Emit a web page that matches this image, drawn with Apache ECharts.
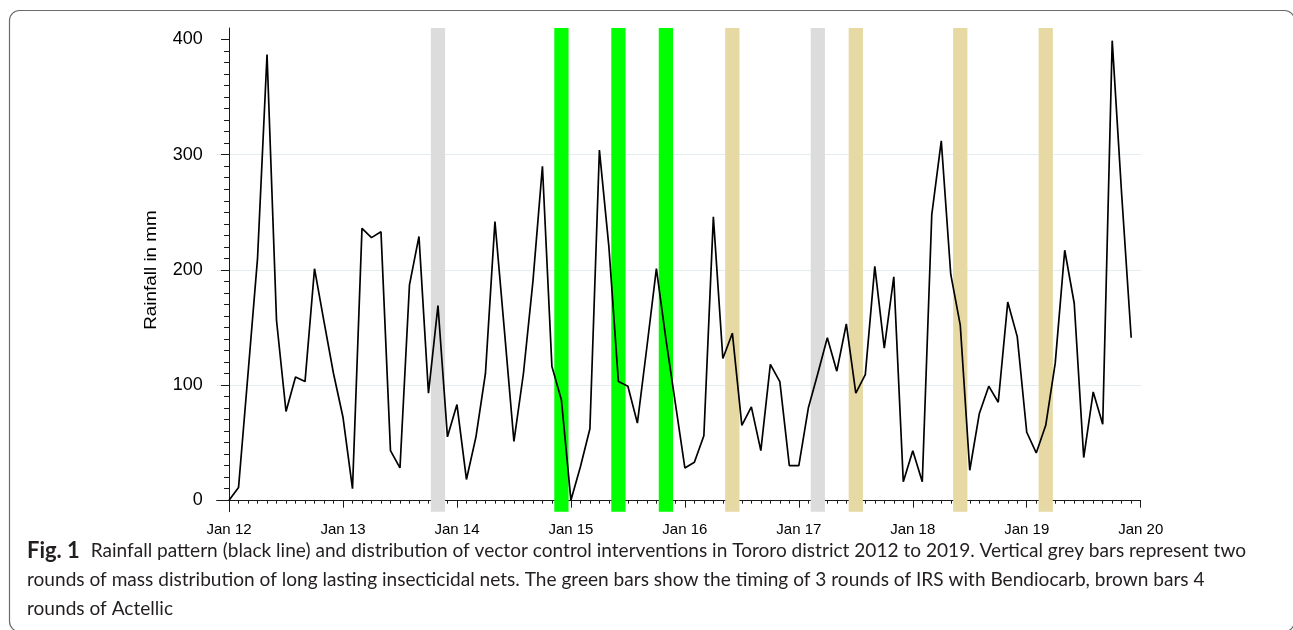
<!DOCTYPE html>
<html>
<head>
<meta charset="utf-8">
<script src="https://cdn.jsdelivr.net/npm/echarts@6/dist/echarts.min.js"></script>
<style>
html,body{margin:0;padding:0;background:#fff;}
#c{width:1293px;height:630px;}
</style>
</head>
<body>
<div id="c"></div>
<script>
// Monthly rainfall (mm), Jan 2012 .. Dec 2019
const rain2012 = [0, 11, 110, 210, 387, 156, 77, 107, 103, 201, 155, 110];
const rain2013 = [72, 10, 236, 228, 233, 43, 28, 187, 229, 93, 169, 55];
const rain2014 = [83, 18, 55, 110, 242, 147, 51, 110, 190, 290, 116, 87];
const rain2015 = [0, 29, 62, 304, 220, 103, 99, 67, 133, 201, 140, 84];
const rain2016 = [28, 33, 56, 246, 123, 145, 65, 81, 43, 118, 103, 30];
const rain2017 = [30, 80, 110, 141, 112, 153, 93, 109, 203, 132, 194, 16];
const rain2018 = [43, 16, 248, 312, 196, 152, 26, 75, 99, 85, 172, 142];
const rain2019 = [59, 41, 65, 119, 217, 171, 37, 94, 66, 399, 265, 141];

// Intervention timing (month index from Jan 2012)
const netRounds = [22, 62];              // mass LLIN distribution (grey)
const bendiocarbRounds = [35, 41, 46];   // IRS Bendiocarb (green)
const actellicRounds = [53, 66, 77, 86]; // IRS Actellic (brown)

// Axis ticks
const xTickMonths = [0, 12, 24, 36, 48, 60, 72, 84, 96];
const xTickLabels = ['Jan 12', 'Jan 13', 'Jan 14', 'Jan 15', 'Jan 16', 'Jan 17', 'Jan 18', 'Jan 19', 'Jan 20'];
const yTicks = [0, 100, 200, 300, 400];

const rainfall = [].concat(rain2012, rain2013, rain2014, rain2015, rain2016, rain2017, rain2018, rain2019);
const lineData = rainfall.map((v, i) => [i, v]);

const xMinorTicks = [];
for (let m = 0; m <= 96; m++) xMinorTicks.push(m);
const yMinorTicks = [];
for (let v = 0; v <= 400; v += 10) yMinorTicks.push(v);

const HALF = 0.75;
const COLORS = { net: '#dcdcdc', bendio: '#00ff00', actellic: '#e6d9a3' };
function areas(list, color) {
  return list.map(c => [{ xAxis: c - HALF, itemStyle: { color: color, opacity: 1 } }, { xAxis: c + HALF }]);
}
const areaData = [].concat(areas(netRounds, COLORS.net), areas(bendiocarbRounds, COLORS.bendio), areas(actellicRounds, COLORS.actellic));

const FONT = "'Liberation Sans', Arial, Helvetica, sans-serif";
const CAP_FONT = "Lato";

// caption text
const capBold = 'Fig. 1';
const capL1 = 'Rainfall pattern (black line) and distribution of vector control interventions in Tororo district 2012 to 2019. Vertical grey bars represent two';
const capL2 = 'rounds of mass distribution of long lasting insecticidal nets. The green bars show the timing of 3 rounds of IRS with Bendiocarb, brown bars 4';
const capL3 = 'rounds of Actellic';

const mctx = document.createElement('canvas').getContext('2d');
function fitSize(text, weight, family, target) {
  mctx.font = weight + ' 100px ' + family;
  return 100 * target / mctx.measureText(text).width;
}
const capSize = Math.min(fitSize(capL1, 'normal', CAP_FONT, 1156), fitSize(capL2, 'normal', CAP_FONT, 1191));
const boldSize = Math.min(fitSize(capBold, 'bold', CAP_FONT, 53), capSize * 1.15);
const capColor = '#231f20';

const chart = echarts.init(document.getElementById('c'), null, { renderer: 'canvas' });

const gridLeft = 216.7, gridTop = 28, gridRight = 1293 - 1140.7, gridBottom = 630 - 511.7;

chart.setOption({
  animation: false,
  backgroundColor: '#ffffff',
  grid: { left: gridLeft, top: gridTop, right: gridRight, bottom: gridBottom, containLabel: false },
  xAxis: [
    {
      type: 'value', min: -1.3, max: 96, position: 'bottom',
      axisLine: { show: true, lineStyle: { color: '#1a1a1a', width: 1 } },
      axisTick: { show: true, customValues: xTickMonths, length: 7.5, lineStyle: { color: '#1a1a1a', width: 1 } },
      axisLabel: {
        show: true, customValues: xTickMonths, margin: 11,
        fontFamily: FONT, fontSize: 15, color: '#000',
        formatter: v => xTickLabels[xTickMonths.indexOf(Math.round(v))] || ''
      },
      splitLine: { show: false }
    },
    {
      type: 'value', min: -1.3, max: 96, position: 'bottom',
      axisLine: { show: false },
      axisTick: { show: true, customValues: xMinorTicks, length: 3.5, lineStyle: { color: '#1a1a1a', width: 1 } },
      axisLabel: { show: false },
      splitLine: { show: false }
    }
  ],
  yAxis: [
    {
      type: 'value', min: -10, max: 410, position: 'left',
      axisLine: { show: true, lineStyle: { color: '#1a1a1a', width: 1 } },
      axisTick: { show: true, customValues: yTicks, length: 8, lineStyle: { color: '#1a1a1a', width: 1 } },
      axisLabel: { show: true, customValues: yTicks, margin: 14, fontFamily: FONT, fontSize: 18, color: '#000' },
      splitLine: { show: true, showMinLine: false, showMaxLine: false, lineStyle: { color: '#e2edef', width: 1.2 } }
    },
    {
      type: 'value', min: -10, max: 410, position: 'left',
      axisLine: { show: false },
      axisTick: { show: true, customValues: yMinorTicks, length: 5, lineStyle: { color: '#1a1a1a', width: 1 } },
      axisLabel: { show: false },
      splitLine: { show: false }
    }
  ],
  series: [
    {
      name: 'interventions', type: 'line', xAxisIndex: 0, yAxisIndex: 0,
      data: lineData, showSymbol: false, symbol: 'none', silent: true,
      lineStyle: { opacity: 0, width: 0 }, z: 1,
      markArea: { silent: true, z: 1, data: areaData, label: { show: false } }
    },
    {
      name: 'Rainfall', type: 'line', xAxisIndex: 0, yAxisIndex: 0,
      data: lineData, showSymbol: false, symbol: 'none', silent: true,
      lineStyle: { color: '#000', width: 1.7 }, z: 5
    }
  ],
  graphic: [
    {
      type: 'rect', silent: true, z: 100,
      shape: { x: 9.5, y: 10.5, width: 1285, height: 621, r: 10 },
      style: { fill: 'none', stroke: '#6b6b6b', lineWidth: 1.2 }
    },
    {
      type: 'text', silent: true, z: 100,
      x: 151, y: 270, rotation: Math.PI / 2, scaleX: 1.11,
      style: { text: 'Rainfall in mm', font: '17px ' + FONT, fill: '#000', align: 'center', verticalAlign: 'middle' }
    },
    {
      type: 'text', silent: true, z: 100, x: 27, y: 556.7 - 0.32 * capSize,
      style: { text: capBold, font: 'bold ' + boldSize + 'px ' + CAP_FONT, fill: capColor, align: 'left', verticalAlign: 'middle' }
    },
    {
      type: 'text', silent: true, z: 100, x: 90.7, y: 556.7 - 0.32 * capSize,
      style: { text: capL1, font: capSize + 'px ' + CAP_FONT, fill: capColor, align: 'left', verticalAlign: 'middle' }
    },
    {
      type: 'text', silent: true, z: 100, x: 27, y: 586 - 0.32 * capSize,
      style: { text: capL2, font: capSize + 'px ' + CAP_FONT, fill: capColor, align: 'left', verticalAlign: 'middle' }
    },
    {
      type: 'text', silent: true, z: 100, x: 27, y: 615 - 0.32 * capSize,
      style: { text: capL3, font: capSize + 'px ' + CAP_FONT, fill: capColor, align: 'left', verticalAlign: 'middle' }
    }
  ]
});
</script>
</body>
</html>
